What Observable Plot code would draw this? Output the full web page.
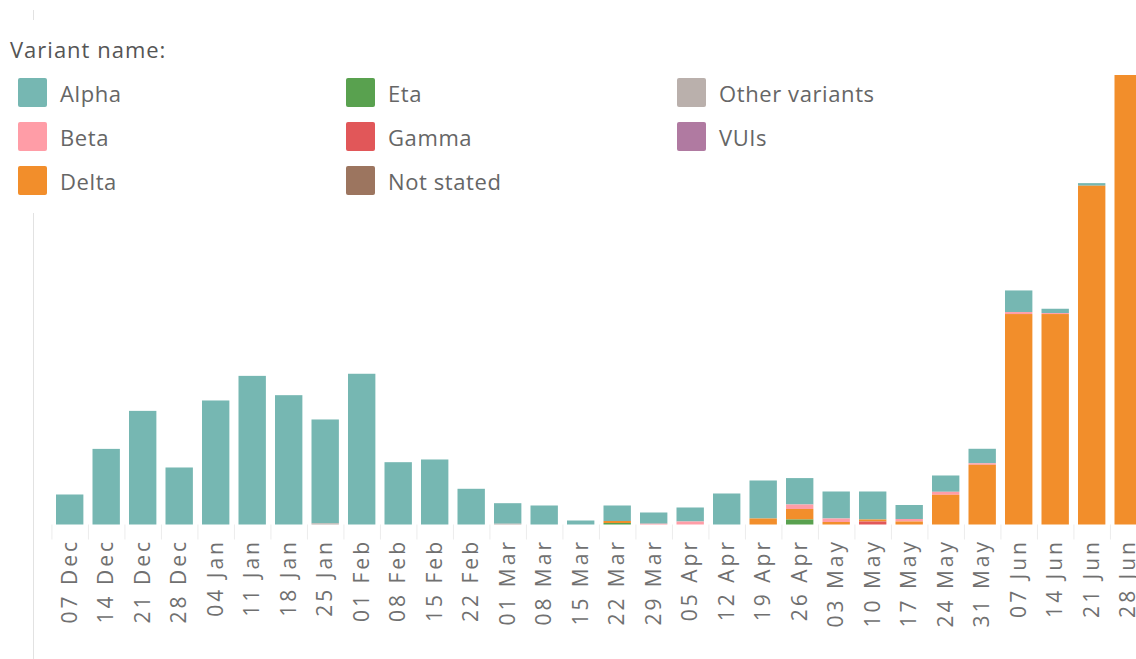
<!DOCTYPE html>
<html>
<head>
<meta charset="utf-8">
<script src="https://cdn.jsdelivr.net/npm/d3@7"></script>
<script src="https://cdn.jsdelivr.net/npm/@observablehq/plot@0.6"></script>
<style>
  html, body { margin: 0; padding: 0; background: #fff; overflow: hidden; }
  #wrap { position: relative; width: 1136px; height: 659px; overflow: hidden; font-family: "Open Sans", sans-serif; }
  #chart { position: absolute; left: 0; top: 0; }
  #chart svg { overflow: hidden !important; }
  #chart g[aria-label="x-axis tick label"] text { letter-spacing: 3px; }
  .vline { position: absolute; left: 33px; width: 1px; background: #e2e2e2; }
  #legend { position: absolute; left: 0; top: 0; width: 900px; height: 210px; }
  #legend .title { position: absolute; left: 10px; top: 34px; font-size: 22px; color: #555; letter-spacing: 1px; }
  #legend .item { position: absolute; height: 29px; display: flex; align-items: center; font-size: 22px; color: #666; white-space: nowrap; letter-spacing: 0.6px; }
  #legend .sw { width: 29px; height: 29px; border-radius: 2px; margin-right: 13px; }
</style>
</head>
<body>
<div id="wrap">
  <div id="chart"></div>
  <div class="vline" style="top:10px;height:10px"></div>
  <div class="vline" style="top:213px;height:446px"></div>
  <div id="legend"></div>
</div>
<script>
const weeks = ["07 Dec","14 Dec","21 Dec","28 Dec","04 Jan","11 Jan","18 Jan","25 Jan","01 Feb","08 Feb","15 Feb","22 Feb","01 Mar","08 Mar","15 Mar","22 Mar","29 Mar","05 Apr","12 Apr","19 Apr","26 Apr","03 May","10 May","17 May","24 May","31 May","07 Jun","14 Jun","21 Jun","28 Jun"];

const alpha     = [30, 75.6, 113.6, 57, 124, 148.6, 129.3, 103.8, 150.7, 62.3, 65, 35.7, 20.5, 19, 4, 15.5, 11.2, 14, 31, 38, 26.4, 27, 28, 14, 16.3, 14.5, 21.6, 4.3, 2.6, 0];
const beta      = [0, 0, 0, 0, 0, 0, 0, 0, 0, 0, 0, 0, 0, 0, 0, 0, 0.8, 3, 0, 0, 4.5, 3.5, 0, 2.5, 3, 1.5, 2, 1, 0, 0];
const delta     = [0, 0, 0, 0, 0, 0, 0, 0, 0, 0, 0, 0, 0, 0, 0, 2, 0, 0, 0, 6, 10.5, 2.5, 2, 3, 29.7, 59.7, 210.4, 210.4, 338.7, 449.4];
const eta       = [0, 0, 0, 0, 0, 0, 0, 0, 0, 0, 0, 0, 0, 0, 0, 1.5, 0, 0, 0, 0, 5, 0, 0, 0, 0, 0, 0, 0, 0, 0];
const gamma     = [0, 0, 0, 0, 0, 0, 0, 0, 0, 0, 0, 0, 0, 0, 0, 0, 0, 0, 0, 0, 0, 0, 3, 0, 0, 0, 0, 0, 0, 0];
const notStated = [0, 0, 0, 0, 0, 0, 0, 0, 0, 0, 0, 0, 0, 0, 0, 0, 0, 0, 0, 0, 0, 0, 0, 0, 0, 0, 0, 0, 0, 0];
const other     = [0, 0, 0, 0, 0, 0, 0, 1.2, 0, 0, 0, 0, 0.8, 0, 0, 0, 0, 0, 0, 0, 0, 0, 0, 0, 0, 0, 0, 0, 0, 0];
const vuis      = [0, 0, 0, 0, 0, 0, 0, 0, 0, 0, 0, 0, 0, 0, 0, 0, 0, 0, 0, 0, 0, 0, 0, 0, 0, 0, 0, 0, 0, 0];

const variants = ["Alpha","Beta","Delta","Eta","Gamma","Not stated","Other variants","VUIs"];
const colors   = ["#76b7b2","#ff9da7","#f28e2b","#59a14f","#e15759","#9c755f","#bab0ac","#b07aa1"];
const seriesValues = [alpha, beta, delta, eta, gamma, notStated, other, vuis];
const stackOrder = variants.slice().reverse(); // bottom → top

const data = [];
variants.forEach((v, k) => {
  seriesValues[k].forEach((val, i) => {
    if (val > 0) data.push({week: weeks[i], variant: v, value: val});
  });
});
const totals = weeks.map((w, i) => d3.sum(seriesValues, s => s[i]));

const W = 1136, H = 659;
const step = 36.5;
const plot = Plot.plot({
  width: W,
  height: H,
  marginTop: 75,
  marginBottom: 134.5,
  marginLeft: 46.875,
  marginRight: 0,
  style: {fontFamily: "Open Sans, sans-serif", background: "transparent", overflow: "hidden"},
  x: {type: "band", domain: weeks, range: [46.875, 46.875 + step * 30.25], paddingInner: 0.25, paddingOuter: 0.25, align: 0.5, round: false, label: null},
  y: {domain: [0, d3.max(totals)], axis: null},
  color: {domain: variants, range: colors},
  marks: [
    Plot.axisX({tickSize: 15, tickFormat: () => "", dx: -step / 2, stroke: "#ececec", label: null}),
    Plot.barY(data, {x: "week", y: "value", fill: "variant", order: stackOrder}),
    Plot.axisX({tickSize: 0, tickRotate: -90, tickPadding: 14, fontSize: 21, fill: "#707070", label: null})
  ]
});
document.getElementById("chart").appendChild(plot);

// legend
const legend = document.getElementById("legend");
const t = document.createElement("div");
t.className = "title";
t.textContent = "Variant name:";
legend.appendChild(t);
const colX = [18, 346, 677];
const rowY = [78, 122, 166];
variants.forEach((v, k) => {
  const col = Math.floor(k / 3), row = k % 3;
  const it = document.createElement("div");
  it.className = "item";
  it.style.left = colX[col] + "px";
  it.style.top = rowY[row] + "px";
  const sw = document.createElement("div");
  sw.className = "sw";
  sw.style.background = colors[k];
  const lb = document.createElement("span");
  lb.textContent = v;
  it.appendChild(sw);
  it.appendChild(lb);
  legend.appendChild(it);
});
</script>
</body>
</html>
